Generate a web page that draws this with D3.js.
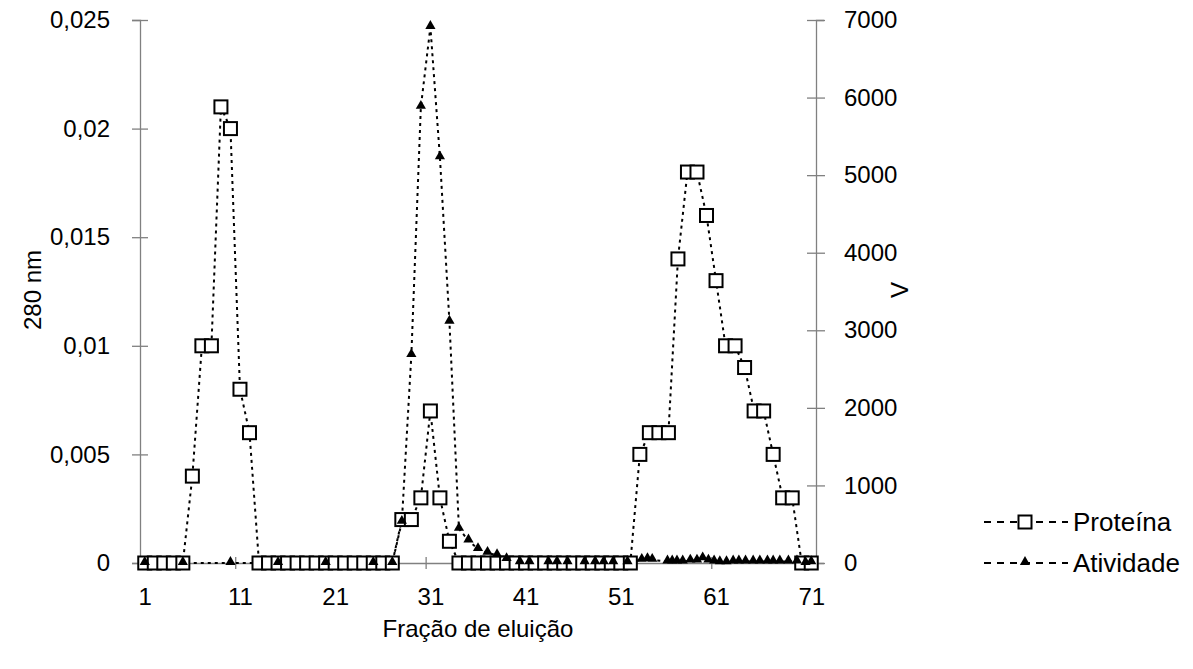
<!DOCTYPE html>
<html>
<head>
<meta charset="utf-8">
<title>Fração de eluição</title>
<script src="https://d3js.org/d3.v7.min.js"></script>
<style>
  body { margin: 0; background: #fff; }
  text { font-family: "Liberation Sans", Arial, sans-serif; fill: #000; }
</style>
</head>
<body>
<script>
// fractions 1..71 and protein absorbance (280 nm)
var fractions = d3.range(1, 72);
var protein = [
  0, 0, 0, 0, 0, 0.004, 0.01, 0.01, 0.021, 0.02, 0.008, 0.006,
  0, 0, 0, 0, 0, 0, 0, 0, 0, 0, 0, 0, 0, 0, 0,
  0.002, 0.002, 0.003, 0.007, 0.003, 0.001,
  0, 0, 0, 0, 0, 0, 0, 0, 0, 0, 0, 0, 0, 0, 0, 0, 0, 0, 0,
  0.005, 0.006, 0.006, 0.006, 0.014, 0.018, 0.018, 0.016, 0.013, 0.01, 0.01,
  0.009, 0.007, 0.007, 0.005, 0.003, 0.003, 0, 0
];

// activity points (position on the fraction axis, value)
var activityX = [
  1, 5, 10, 15, 20, 25, 27, 28, 29, 30, 31, 32, 33, 34, 35, 36, 37, 38, 39,
  40.4, 41.4, 43.4, 44.3, 45.4, 47.2, 48.3, 49.2, 50.2, 51.7,
  53.2, 53.8, 54.3, 55.9, 56.4, 56.9, 57.5, 58.3, 59.0, 59.6, 60.2, 60.8,
  61.4, 62.1, 62.8, 63.4, 64.1, 64.9, 65.6, 66.4, 67.0, 67.7, 68.6, 69.5,
  70.4, 71.0
];
var activity = [
  0, 0, 0, 0, 0, 0, 0, 530, 2680, 5880, 6910, 5230, 3110, 440, 290, 180, 130, 100, 50,
  10, 10, 10, 10, 10, 10, 10, 10, 10, 10,
  40, 50, 40, 20, 20, 20, 20, 30, 30, 60, 30, 20,
  10, 10, 20, 20, 20, 20, 20, 20, 20, 20, 20, 20,
  0, 10
];

var xLabels = [1, 11, 21, 31, 41, 51, 61, 71];
var xTickMarks = [0.5, 10.5, 20.5, 30.5, 40.5, 50.5, 60.5, 70.5];
var leftTicks = [0, 0.005, 0.01, 0.015, 0.02, 0.025];
var leftTickText = ["0", "0,005", "0,01", "0,015", "0,02", "0,025"];
var rightTicks = [0, 1000, 2000, 3000, 4000, 5000, 6000, 7000];

var W = 1193, H = 669;
var plot = { left: 140, right: 816, top: 20, bottom: 563 };
var fs = "24px";

var svg = d3.select("body").append("svg")
  .attr("width", W).attr("height", H);

var x = d3.scaleLinear().domain([0.5, 71.5]).range([plot.left, plot.right]);
var yL = d3.scaleLinear().domain([0, 0.025]).range([plot.bottom, plot.top]);
var yR = d3.scaleLinear().domain([0, 7000]).range([plot.bottom, plot.top]);

var axisColor = "#808080";

function styleText(g) {
  g.selectAll(".tick text").style("font-size", fs)
    .style("font-family", "'Liberation Sans', Arial, sans-serif").attr("fill", "#000");
}

// left axis
var gL = svg.append("g").attr("transform", "translate(" + plot.left + ",0)")
  .call(d3.axisLeft(yL).tickValues(leftTicks).tickSize(8).tickPadding(22)
    .tickFormat(function(d, i) { return leftTickText[i]; }));
gL.select(".domain").attr("stroke", axisColor).attr("stroke-width", 1.3);
gL.selectAll(".tick line").attr("stroke", axisColor).attr("stroke-width", 1.3)
  .attr("x1", 8).attr("x2", -8);
styleText(gL);

// right axis
var gR = svg.append("g").attr("transform", "translate(" + plot.right + ",0)")
  .call(d3.axisRight(yR).tickValues(rightTicks).tickSize(8).tickPadding(20)
    .tickFormat(d3.format("d")));
gR.select(".domain").attr("stroke", axisColor).attr("stroke-width", 1.3);
gR.selectAll(".tick line").attr("stroke", axisColor).attr("stroke-width", 1.3)
  .attr("x1", -9).attr("x2", 9);
styleText(gR);

// x axis at zero
var gX = svg.append("g").attr("transform", "translate(0," + plot.bottom + ")")
  .call(d3.axisBottom(x).tickValues(xTickMarks).tickSize(6).tickFormat(""));
gX.select(".domain").attr("stroke", axisColor).attr("stroke-width", 1.3);
gX.selectAll(".tick line").attr("stroke", axisColor).attr("stroke-width", 1.3)
  .attr("y1", -6).attr("y2", 6);

var gXL = svg.append("g").attr("transform", "translate(0," + plot.bottom + ")")
  .call(d3.axisBottom(x).tickValues(xLabels).tickSize(0).tickPadding(25));
gXL.select(".domain").remove();
styleText(gXL);

// axis titles
svg.append("text").attr("x", 478).attr("y", 637)
  .attr("text-anchor", "middle").style("font-size", fs).text("Fração de eluição");
svg.append("text").attr("transform", "translate(41,290) rotate(-90)")
  .attr("text-anchor", "middle").style("font-size", fs).text("280 nm");
svg.append("text").attr("transform", "translate(908,290) rotate(-90)")
  .attr("text-anchor", "middle").style("font-size", fs).text("V");

var dash = "3,4";

// protein line
var protData = fractions.map(function(f, i) { return { f: f, v: protein[i] }; });
svg.append("path").datum(protData)
  .attr("fill", "none").attr("stroke", "#000").attr("stroke-width", 2)
  .attr("stroke-dasharray", dash)
  .attr("d", d3.line().x(function(d) { return x(d.f); }).y(function(d) { return yL(d.v); }));

// activity line
var actData = activityX.map(function(f, i) { return { f: f, v: activity[i] }; });
svg.append("path").datum(actData)
  .attr("fill", "none").attr("stroke", "#000").attr("stroke-width", 2)
  .attr("stroke-dasharray", dash)
  .attr("d", d3.line().x(function(d) { return x(d.f); }).y(function(d) { return yR(d.v); }));

var sq = 13;
svg.selectAll("rect.prot").data(protData).enter().append("rect")
  .attr("class", "prot")
  .attr("x", function(d) { return x(d.f) - sq / 2; })
  .attr("y", function(d) { return yL(d.v) - sq / 2; })
  .attr("width", sq).attr("height", sq)
  .attr("fill", "#fff").attr("stroke", "#000").attr("stroke-width", 2);

var tri = d3.symbol().type(d3.symbolTriangle).size(45);
svg.selectAll("path.act").data(actData).enter().append("path")
  .attr("class", "act")
  .attr("d", tri)
  .attr("transform", function(d) { return "translate(" + x(d.f) + "," + (yR(d.v) - 1) + ")"; })
  .attr("fill", "#000");

// legend
var legend = [
  { name: "Proteína", y: 522, type: "square" },
  { name: "Atividade", y: 563, type: "triangle" }
];
var lg = svg.selectAll("g.leg").data(legend).enter().append("g")
  .attr("class", "leg").attr("transform", function(d) { return "translate(0," + d.y + ")"; });
lg.append("line").attr("x1", 984).attr("x2", 1068).attr("y1", 0).attr("y2", 0)
  .attr("stroke", "#000").attr("stroke-width", 2).attr("stroke-dasharray", "7,6");
lg.filter(function(d) { return d.type === "square"; }).append("rect")
  .attr("x", 1025 - sq / 2).attr("y", -sq / 2).attr("width", sq).attr("height", sq)
  .attr("fill", "#fff").attr("stroke", "#000").attr("stroke-width", 2);
lg.filter(function(d) { return d.type === "triangle"; }).append("path")
  .attr("d", tri).attr("transform", "translate(1025,-1)").attr("fill", "#000");
lg.append("text").attr("x", 1073).attr("y", 9).style("font-size", "26px")
  .text(function(d) { return d.name; });
</script>
</body>
</html>
